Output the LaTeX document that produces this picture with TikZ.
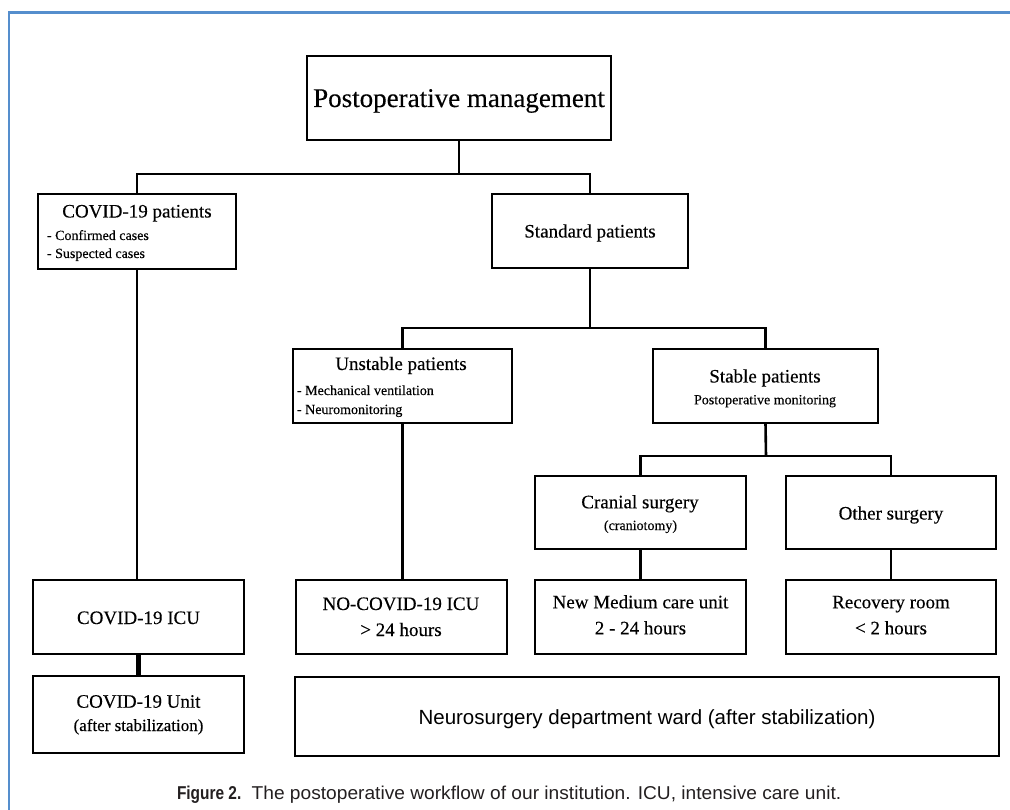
\documentclass[tikz,border=0pt]{standalone}
\usepackage{fontspec}
\setmainfont{Liberation Serif}[FakeBold=0.3]
\newfontfamily\capsans{Liberation Sans}
\definecolor{frameblue}{RGB}{85,142,205}
\definecolor{captext}{RGB}{35,31,32}
\begin{document}
\begin{tikzpicture}[x=1pt,y=-1pt,
  box/.style={draw, line width=2.6pt, inner sep=0pt, outer sep=0pt, anchor=north west},
  conn/.style={line width=2.6pt},
  thickconn/.style={line width=4.2pt},
  lbl/.style={inner sep=0pt, outer sep=0pt, anchor=base},
  item/.style={inner sep=0pt, outer sep=0pt, anchor=base west, font=\fontsize{14}{16}\selectfont},
  big/.style={font=\fontsize{19}{22}\selectfont},
  small/.style={font=\fontsize{14}{16}\selectfont},
  mid/.style={font=\fontsize{17}{20}\selectfont}]
\useasboundingbox (0,0) rectangle (1010,810);
% blue frame
\draw[frameblue, line width=2.3pt] (9,810) -- (9,12.5) -- (1010,12.5);
% boxes
\node[box, minimum width=304pt, minimum height=84pt] (top) at (307,56) {};
\node[box, minimum width=198pt, minimum height=75pt] (covidp) at (38,194) {};
\node[box, minimum width=196pt, minimum height=74pt] (std) at (492,194) {};
\node[box, minimum width=219pt, minimum height=74pt] (unst) at (293,349) {};
\node[box, minimum width=225pt, minimum height=74pt] (stab) at (653,349) {};
\node[box, minimum width=211pt, minimum height=73pt] (cran) at (535,476) {};
\node[box, minimum width=210pt, minimum height=73pt] (oth) at (786,476) {};
\node[box, minimum width=211pt, minimum height=74pt] (cicu) at (33,580) {};
\node[box, minimum width=211pt, minimum height=74pt] (noicu) at (296,580) {};
\node[box, minimum width=211pt, minimum height=74pt] (newmed) at (535,580) {};
\node[box, minimum width=210pt, minimum height=74pt] (recov) at (786,580) {};
\node[box, minimum width=211pt, minimum height=77pt] (cunit) at (33,676) {};
\node[box, minimum width=704pt, minimum height=79pt] (neuro) at (295,677) {};
% junctions
\coordinate (j1) at (459,174);
\coordinate (j2) at (590,328);
\coordinate (j3) at (766,456);
% connectors
\draw[conn] (top.south) -- (j1);
\draw[conn] (covidp.north) |- (j1) -| (std.north);
\draw[conn] (covidp.south) -- (covidp.south |- cicu.north);
\draw[thickconn] (cicu.south) -- (cunit.north);
\draw[conn] (std.south) -- (j2);
\draw[conn] (unst.north) |- (j2) -| (stab.north);
\draw[conn] (unst.south) -- (unst.south |- noicu.north);
\draw[conn] (stab.south) -- (j3);
\draw[conn] (cran.north) |- (j3) -| (oth.north);
\draw[conn] (cran.south) -- (newmed.north);
\draw[conn] (oth.south) -- (recov.north);
% labels
\node[lbl, font=\fontsize{27}{30}\selectfont] (top-t) at (459,107) {Postoperative management};
\node[lbl, big] (covidp-t) at (137,217.5) {COVID-19 patients};
\node[item] (covidp-a) at (47,240) {- Confirmed cases};
\node[item] (covidp-b) at (47,258) {- Suspected cases};
\node[lbl, big] (std-t) at (590,237.5) {Standard patients};
\node[lbl, big] (unst-t) at (401,370) {Unstable patients};
\node[item] (unst-a) at (297,395) {- Mechanical ventilation};
\node[item] (unst-b) at (297,414) {- Neuromonitoring};
\node[lbl, big] (stab-t) at (765,382.5) {Stable patients};
\node[lbl, small] (stab-s) at (765,404.3) {Postoperative monitoring};
\node[lbl, big] (cran-t) at (640,508.3) {Cranial surgery};
\node[lbl, small] (cran-s) at (640.5,530) {(craniotomy)};
\node[lbl, big] (oth-t) at (891,519.5) {Other surgery};
\node[lbl, big] (cicu-t) at (138.5,624) {COVID-19 ICU};
\node[lbl, big] (noicu-t) at (401,610) {NO-COVID-19 ICU};
\node[lbl, big] (noicu-s) at (401,636) {> 24 hours};
\node[lbl, big] (newmed-t) at (640.5,608.3) {New Medium care unit};
\node[lbl, big] (newmed-s) at (640.5,634.3) {2 - 24 hours};
\node[lbl, big] (recov-t) at (891,608.3) {Recovery room};
\node[lbl, big] (recov-s) at (891,634.3) {< 2 hours};
\node[lbl, big] (cunit-t) at (138.5,707.7) {COVID-19 Unit};
\node[lbl, mid] (cunit-s) at (138.5,731) {(after stabilization)};
\node[lbl, font=\capsans\fontsize{20.5}{24}\selectfont] (neuro-t) at (647,724) {Neurosurgery department ward (after stabilization)};
% caption
\node[inner sep=0pt, outer sep=0pt, anchor=base west, text=captext, font=\capsans\fontsize{18.6}{22}\selectfont] (caption) at (177,799)
  {\scalebox{0.83}[1]{\bfseries Figure 2.}\ \ \scalebox{1.03}[1]{The postoperative workflow of our institution. ICU, intensive care unit.}};
\end{tikzpicture}
\end{document}
